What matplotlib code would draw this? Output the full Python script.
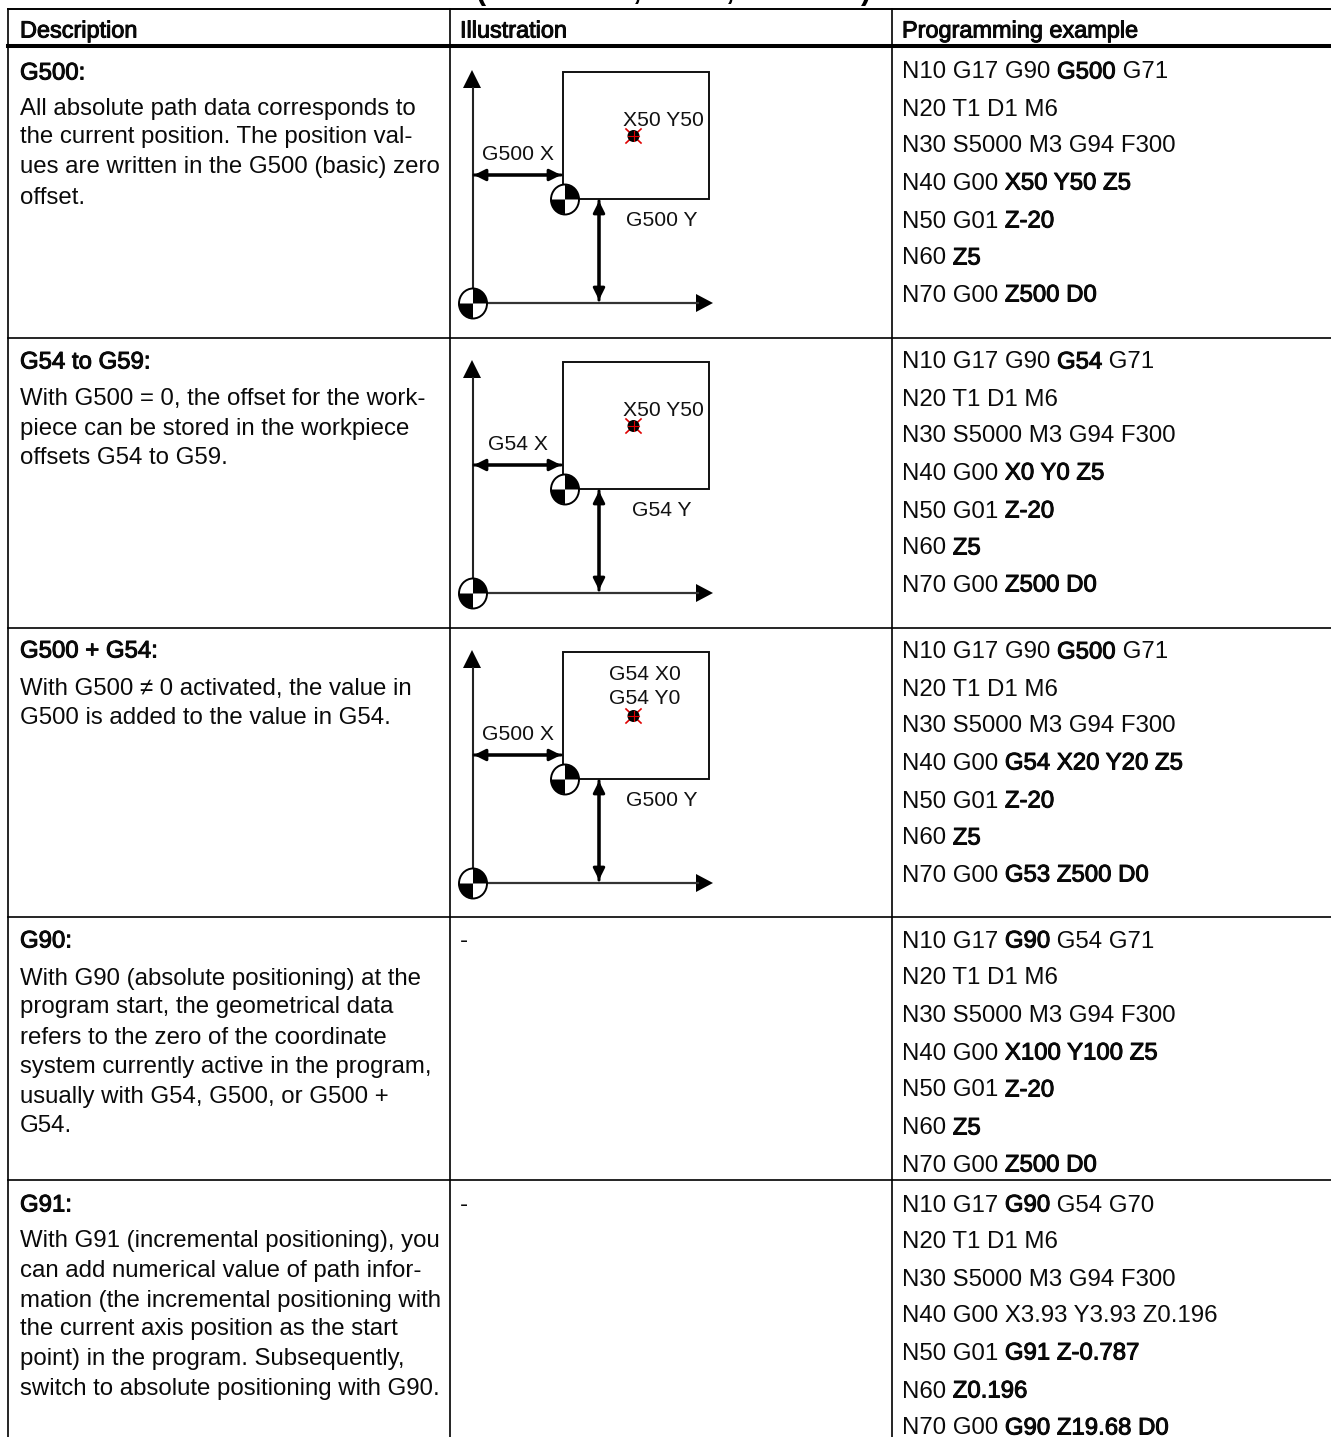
import matplotlib
matplotlib.use("Agg")
import matplotlib.patheffects as pe
import matplotlib.pyplot as plt
from matplotlib.patches import Ellipse, Rectangle, Wedge

WIDTH = 1331
HEIGHT = 1437
FONT = "Liberation Sans"
HEADER_SIZE = 16.9
DESC_SIZE = 17.25
CODE_SIZE = 17.25
DIAGRAM_SIZE = 15.2

HEADERS = ["Description", "Illustration", "Programming example"]

# ** marks the emphasised part of a line
DESCRIPTIONS = [
    ["**G500:**", "All absolute path data corresponds to", "the current position. The position val-",
     "ues are written in the G500 (basic) zero", "offset."],
    ["**G54 to G59:**", "With G500 = 0, the offset for the work-", "piece can be stored in the workpiece",
     "offsets G54 to G59."],
    ["**G500 + G54:**", "With G500 \u2260 0 activated, the value in", "G500 is added to the value in G54."],
    ["**G90:**", "With G90 (absolute positioning) at the", "program start, the geometrical data",
     "refers to the zero of the coordinate", "system currently active in the program,",
     "usually with G54, G500, or G500 +", "G54."],
    ["**G91:**", "With G91 (incremental positioning), you", "can add numerical value of path infor-",
     "mation (the incremental positioning with", "the current axis position as the start",
     "point) in the program. Subsequently,", "switch to absolute positioning with G90."],
]
DESCRIPTION_Y = [
    [71, 106, 135, 165, 195],
    [360, 396, 426, 455],
    [649, 686, 715],
    [939, 976, 1005, 1035, 1064, 1094, 1123],
    [1203, 1239, 1268, 1298, 1327, 1356, 1386],
]

CODE = [
    ["N10 G17 G90 **G500** G71", "N20 T1 D1 M6", "N30 S5000 M3 G94 F300", "N40 G00 **X50 Y50 Z5**",
     "N50 G01 **Z-20**", "N60 **Z5**", "N70 G00 **Z500 D0**"],
    ["N10 G17 G90 **G54** G71", "N20 T1 D1 M6", "N30 S5000 M3 G94 F300", "N40 G00 **X0 Y0 Z5**",
     "N50 G01 **Z-20**", "N60 **Z5**", "N70 G00 **Z500 D0**"],
    ["N10 G17 G90 **G500** G71", "N20 T1 D1 M6", "N30 S5000 M3 G94 F300", "N40 G00 **G54 X20 Y20 Z5**",
     "N50 G01 **Z-20**", "N60 **Z5**", "N70 G00 **G53 Z500 D0**"],
    ["N10 G17 **G90** G54 G71", "N20 T1 D1 M6", "N30 S5000 M3 G94 F300", "N40 G00 **X100 Y100 Z5**",
     "N50 G01 **Z-20**", "N60 **Z5**", "N70 G00 **Z500 D0**"],
    ["N10 G17 **G90** G54 G70", "N20 T1 D1 M6", "N30 S5000 M3 G94 F300", "N40 G00 X3.93 Y3.93 Z0.196",
     "N50 G01 **G91 Z-0.787**", "N60 **Z0.196**", "N70 G00 **G90 Z19.68 D0**"],
]
CODE_Y = [
    [70, 107, 144, 181, 219, 256, 293],
    [360, 397, 434, 471, 509, 546, 583],
    [650, 687, 724, 761, 799, 836, 873],
    [939, 976, 1013, 1051, 1088, 1126, 1163],
    [1203, 1240, 1277, 1314, 1351, 1389, 1426],
]

DIAGRAMS = [
    {"dy": 0, "point": ["X50 Y50"], "x_label": "G500 X", "y_label": "G500 Y"},
    {"dy": 290, "point": ["X50 Y50"], "x_label": "G54 X", "y_label": "G54 Y"},
    {"dy": 580, "point": ["G54 X0", "G54 Y0"], "x_label": "G500 X", "y_label": "G500 Y"},
]

ROW_LINES = [337.5, 628, 917, 1180]
COLUMN_LINES = [8, 450, 892]
COLUMN_TEXT = [20, 460, 902]
EMPTY_ROW_Y = [939, 1203]
TABLE_TOP = 9
HEADER_RULE = 45.7

fig = plt.figure(figsize=(WIDTH / 100, HEIGHT / 100), dpi=100)
ax = fig.add_axes([0, 0, 1, 1])
ax.set_xlim(0, WIDTH)
ax.set_ylim(HEIGHT, 0)
ax.axis("off")

FAUX_BOLD = [pe.withStroke(linewidth=0.7, foreground="black")]


def text_width(s, size):
    # the full stop keeps trailing spaces in the measured extent
    renderer = fig.canvas.get_renderer()
    full = ax.text(0, 0, s + ".", fontsize=size, family=FONT)
    dot = ax.text(0, 0, ".", fontsize=size, family=FONT)
    width = full.get_window_extent(renderer).width - dot.get_window_extent(renderer).width
    full.remove()
    dot.remove()
    return width


def draw_line(x, y, line, size):
    # odd parts of the split are the emphasised ones
    for i, part in enumerate(line.split("**")):
        if not part:
            continue
        t = ax.text(x, y, part, fontsize=size, family=FONT, color="#0a0a0a", va="center_baseline", ha="left")
        if i % 2:
            t.set_path_effects(FAUX_BOLD)
        x += text_width(part, size)


def arrow(x0, y0, x1, y1):
    ax.annotate("", xy=(x1, y1), xytext=(x0, y0), zorder=3,
                arrowprops=dict(arrowstyle="-|>", color="black", lw=2.2, mutation_scale=17,
                                shrinkA=0, shrinkB=0))


def zero_mark(x, y):
    # slightly taller than wide in the original scan
    ax.add_patch(Ellipse((x, y), 28, 30, fc="white", ec="black", lw=1.4, zorder=4))
    # y axis is inverted, so the angles run clockwise on screen
    top_right = Wedge((x, y), 14.5, 270, 360, fc="black", ec="none", zorder=5)
    bottom_left = Wedge((x, y), 14.5, 90, 180, fc="black", ec="none", zorder=5)
    ax.add_patch(top_right)
    ax.add_patch(bottom_left)


def draw_label(x, y, s):
    ax.text(x, y, s, fontsize=DIAGRAM_SIZE, family=FONT, color="#111111", ha="center", va="center_baseline")


def draw_diagram(spec):
    dy = spec["dy"]
    ax.plot([472.5, 472.5], [88 + dy, 303 + dy], color="#222222", lw=1.5)
    ax.plot([472, 698], [303 + dy, 303 + dy], color="#333333", lw=1.6)
    ax.fill([472, 463, 481], [70 + dy, 88 + dy, 88 + dy], color="black", lw=0)
    ax.fill([713, 696, 696], [303 + dy, 294 + dy, 312 + dy], color="black", lw=0)
    ax.add_patch(Rectangle((563, 72 + dy), 146, 127, fc="none", ec="#111111", lw=1.4))
    arrow(474, 175 + dy, 561, 175 + dy)
    arrow(561, 175 + dy, 474, 175 + dy)
    arrow(599, 300 + dy, 599, 201 + dy)
    arrow(599, 201 + dy, 599, 300 + dy)
    zero_mark(565, 199.5 + dy)
    zero_mark(473, 303.5 + dy)

    # red crossed target
    ax.plot([626, 641], [129 + dy, 143 + dy], color="#e00000", lw=1.2, zorder=4)
    ax.plot([626, 641], [143 + dy, 129 + dy], color="#e00000", lw=1.2, zorder=4)
    ax.add_patch(Ellipse((633.5, 136 + dy), 12, 12, fc="black", ec="none", zorder=5))
    ax.plot([628, 639], [136 + dy, 136 + dy], color="#e00000", lw=0.8, zorder=6)
    ax.plot([633.5, 633.5], [131 + dy, 141 + dy], color="#e00000", lw=0.8, zorder=6)

    if len(spec["point"]) == 1:
        draw_label(663, 118 + dy, spec["point"][0])
    else:
        draw_label(645, 92.7 + dy, spec["point"][0])
        draw_label(645, 116.7 + dy, spec["point"][1])
    draw_label(518, 153 + dy, spec["x_label"])
    draw_label(662, 219 + dy, spec["y_label"])


# table rules
ax.plot([COLUMN_LINES[0], WIDTH], [TABLE_TOP, TABLE_TOP], color="black", lw=1.4)
ax.plot([COLUMN_LINES[0], WIDTH], [HEADER_RULE, HEADER_RULE], color="black", lw=2.9)
for y in ROW_LINES:
    ax.plot([COLUMN_LINES[0], WIDTH], [y, y], color="black", lw=1.2)
for x in COLUMN_LINES:
    ax.plot([x, x], [TABLE_TOP, HEIGHT], color="black", lw=1.2)

# what is left of the cropped page heading
for x, s in zip([481, 637, 730, 866], ["(", ",", ",", ")"]):
    ax.text(x, -12, s, fontsize=22, family=FONT, fontweight="bold", ha="center", va="center_baseline")

for x, header in zip(COLUMN_TEXT, HEADERS):
    draw_line(x, 28.5, f"**{header}**", HEADER_SIZE)
for lines, ys in zip(DESCRIPTIONS, DESCRIPTION_Y):
    for line, y in zip(lines, ys):
        draw_line(COLUMN_TEXT[0], y, line, DESC_SIZE)
for lines, ys in zip(CODE, CODE_Y):
    for line, y in zip(lines, ys):
        draw_line(COLUMN_TEXT[2], y, line, CODE_SIZE)
for y in EMPTY_ROW_Y:
    draw_line(COLUMN_TEXT[1], y, "-", DESC_SIZE)
for spec in DIAGRAMS:
    draw_diagram(spec)

fig.savefig("out.png", dpi=100, facecolor="white")
